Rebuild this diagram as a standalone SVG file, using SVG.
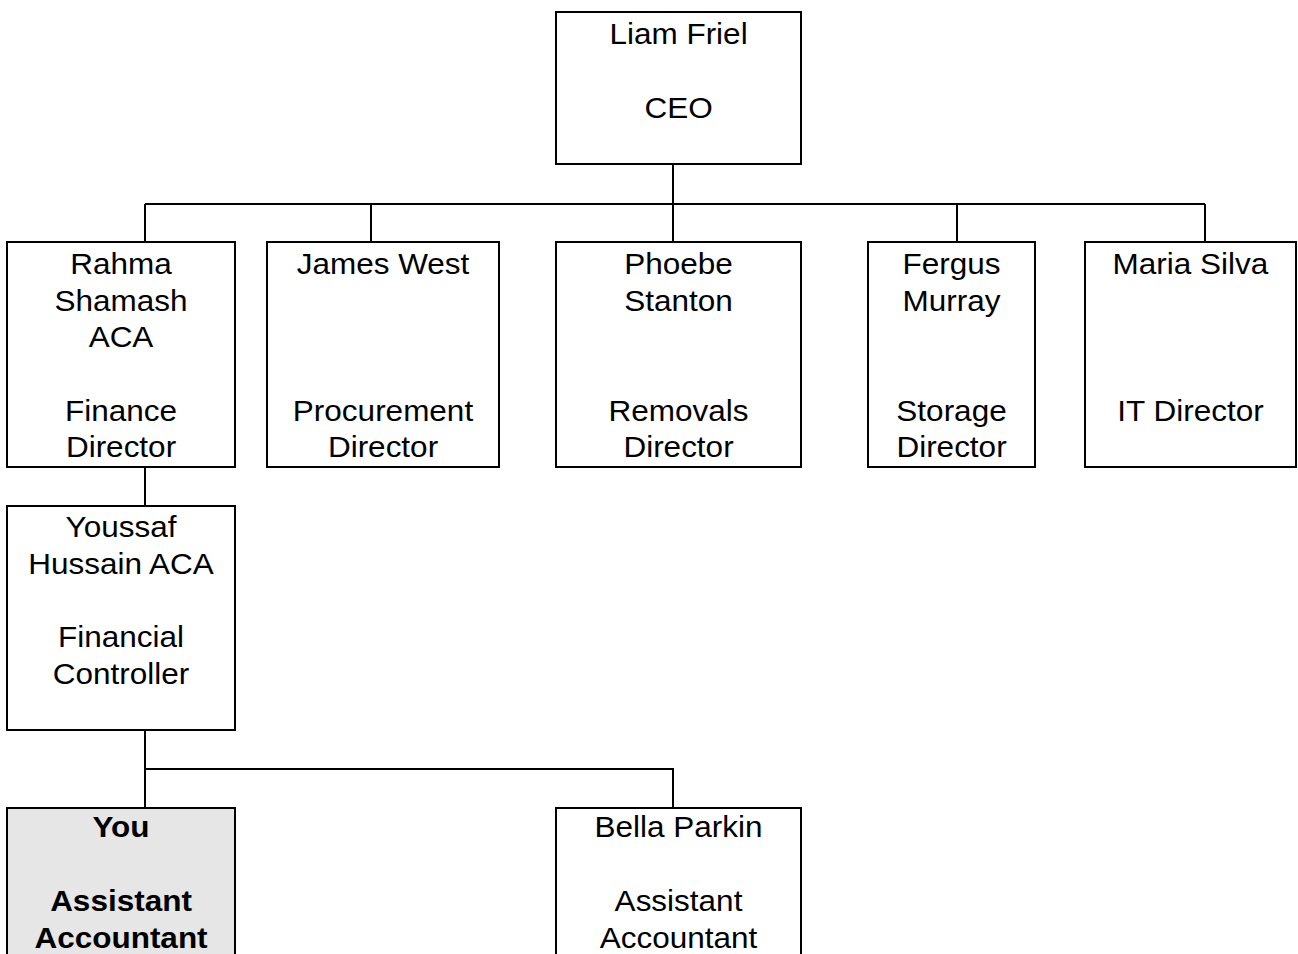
<svg xmlns="http://www.w3.org/2000/svg" width="1298" height="954" viewBox="0 0 1298 954">
<style>
.box{fill:#ffffff;stroke:#000000;stroke-width:2}
.you{fill:#e6e6e6;stroke:#000000;stroke-width:2}
.t{font-family:"Liberation Sans",Arial,sans-serif;font-size:30px;fill:#000000;text-anchor:middle}
.b{font-weight:bold}
.c{fill:none;stroke:#000000;stroke-width:2}
</style>
<rect width="1298" height="954" fill="#ffffff"/>
<g id="connectors">
<path class="c" d="M673 164V204M145 204H1205M145 204V242M371 204V242M673 204V242M957 204V242M1205 204V242"/>
<path class="c" d="M145 467V506"/>
<path class="c" d="M145 730V808M145 769H673V808"/>
</g>
<g id="ceo">
<rect class="box" x="556" y="12" width="245" height="152"/>
<text class="t" transform="translate(678.5 44) scale(1.05 1)">Liam Friel</text>
<text class="t" transform="translate(678.5 118) scale(1.05 1)">CEO</text>
</g>
<g id="rahma">
<rect class="box" x="7" y="242" width="228" height="225"/>
<text class="t" transform="translate(121 274) scale(1.05 1)">Rahma</text>
<text class="t" transform="translate(121 310.5) scale(1.05 1)">Shamash</text>
<text class="t" transform="translate(121 347) scale(1.05 1)">ACA</text>
<text class="t" transform="translate(121 420.5) scale(1.05 1)">Finance</text>
<text class="t" transform="translate(121 457) scale(1.05 1)">Director</text>
</g>
<g id="james">
<rect class="box" x="267" y="242" width="232" height="225"/>
<text class="t" transform="translate(383 274) scale(1.05 1)">James West</text>
<text class="t" transform="translate(383 420.5) scale(1.05 1)">Procurement</text>
<text class="t" transform="translate(383 457) scale(1.05 1)">Director</text>
</g>
<g id="phoebe">
<rect class="box" x="556" y="242" width="245" height="225"/>
<text class="t" transform="translate(678.5 274) scale(1.05 1)">Phoebe</text>
<text class="t" transform="translate(678.5 310.5) scale(1.05 1)">Stanton</text>
<text class="t" transform="translate(678.5 420.5) scale(1.05 1)">Removals</text>
<text class="t" transform="translate(678.5 457) scale(1.05 1)">Director</text>
</g>
<g id="fergus">
<rect class="box" x="868" y="242" width="167" height="225"/>
<text class="t" transform="translate(951.5 274) scale(1.05 1)">Fergus</text>
<text class="t" transform="translate(951.5 310.5) scale(1.05 1)">Murray</text>
<text class="t" transform="translate(951.5 420.5) scale(1.05 1)">Storage</text>
<text class="t" transform="translate(951.5 457) scale(1.05 1)">Director</text>
</g>
<g id="maria">
<rect class="box" x="1085" y="242" width="211" height="225"/>
<text class="t" transform="translate(1190.5 274) scale(1.05 1)">Maria Silva</text>
<text class="t" transform="translate(1190.5 420.5) scale(1.05 1)">IT Director</text>
</g>
<g id="youssaf">
<rect class="box" x="7" y="506" width="228" height="224"/>
<text class="t" transform="translate(121 537) scale(1.05 1)">Youssaf</text>
<text class="t" transform="translate(121 573.5) scale(1.05 1)">Hussain ACA</text>
<text class="t" transform="translate(121 647) scale(1.05 1)">Financial</text>
<text class="t" transform="translate(121 683.5) scale(1.05 1)">Controller</text>
</g>
<g id="you">
<rect class="you" x="7" y="808" width="228" height="160"/>
<text class="t b" transform="translate(121 837) scale(1.05 1)">You</text>
<text class="t b" transform="translate(121 911) scale(1.05 1)">Assistant</text>
<text class="t b" transform="translate(121 947.5) scale(1.05 1)">Accountant</text>
</g>
<g id="bella">
<rect class="box" x="556" y="808" width="245" height="160"/>
<text class="t" transform="translate(678.5 837) scale(1.05 1)">Bella Parkin</text>
<text class="t" transform="translate(678.5 911) scale(1.05 1)">Assistant</text>
<text class="t" transform="translate(678.5 947.5) scale(1.05 1)">Accountant</text>
</g>
</svg>
